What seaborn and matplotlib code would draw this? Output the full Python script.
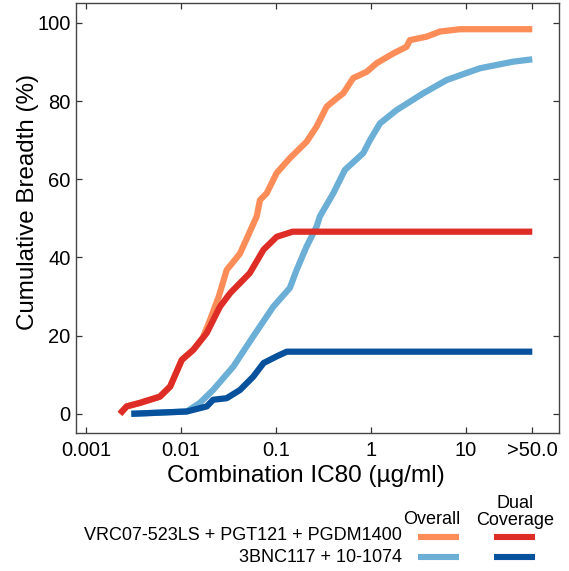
import numpy as np
import pandas as pd
import seaborn as sns
import matplotlib
matplotlib.use("Agg")
import matplotlib.pyplot as plt
from matplotlib import font_manager

# ---- data ----
vrc_overall_x = [0.00228, 0.00268, 0.0037, 0.006, 0.0077, 0.0102, 0.0135, 0.017, 0.0202, 0.025,
                 0.0303, 0.0418, 0.0627, 0.0679, 0.0798, 0.1017, 0.14, 0.21, 0.268, 0.342,
                 0.435, 0.511, 0.651, 0.901, 1.148, 1.72, 2.37, 2.57, 3.86, 5.33, 8.64, 50]
vrc_overall_y = [0, 1.9, 2.8, 4.4, 7.0, 13.8, 16.4, 19.5, 24, 30,
                 36.8, 41, 50.5, 54.7, 56.4, 61.6, 65.4, 69.6, 73.5, 78.6,
                 80.7, 82, 85.9, 87.5, 89.7, 92.2, 93.9, 95.6, 96.5, 97.8, 98.4, 98.4]

vrc_dual_x = [0.00228, 0.00268, 0.0037, 0.006, 0.0077, 0.0102, 0.0135, 0.0187, 0.0257, 0.033,
              0.053, 0.074, 0.102, 0.15, 50]
vrc_dual_y = [0, 1.9, 2.8, 4.4, 7.0, 13.8, 16.4, 20.7, 27.4, 30.9,
              36, 42, 45.3, 46.6, 46.6]

bnc_overall_x = [0.003, 0.0115, 0.0158, 0.0218, 0.0356, 0.0576, 0.0937, 0.14, 0.165, 0.21,
                 0.268, 0.29, 0.401, 0.532, 0.83, 0.976, 1.244, 1.86, 3.55, 6.27, 14.0, 31.5, 50]
bnc_overall_y = [0, 0.6, 2.8, 6.1, 12.1, 19.8, 27.4, 32.2, 36.8, 42.8,
                 47.9, 50.5, 56.4, 62.4, 66.7, 70, 74.3, 77.7, 82, 85.4, 88.4, 90.1, 90.7]

bnc_dual_x = [0.003, 0.0115, 0.0187, 0.0218, 0.0303, 0.0418, 0.0576, 0.0741, 0.1017, 0.13, 50]
bnc_dual_y = [0, 0.6, 1.9, 3.6, 4.0, 6.1, 9.5, 13, 14.7, 15.9, 15.9]

combos = ["VRC07-523LS + PGT121 + PGDM1400", "3BNC117 + 10-1074"]
x_ticks = [0.001, 0.01, 0.1, 1, 10, 50]
x_ticklabels = ["0.001", "0.01", "0.1", "1", "10", ">50.0"]
y_ticks = [0, 20, 40, 60, 80, 100]

c_vrc_over, c_vrc_dual = "#fc8d59", "#de2d26"
c_bnc_over, c_bnc_dual = "#6baed6", "#08519c"

sns.set_style("ticks")
names = {f.name for f in font_manager.fontManager.ttflist}
base = "Liberation Sans" if "Liberation Sans" in names else "DejaVu Sans"
plt.rcParams["font.family"] = [base, "DejaVu Sans"]
plt.rcParams["text.color"] = "black"
plt.rcParams["axes.labelcolor"] = "black"
plt.rcParams["xtick.labelcolor"] = "black"
plt.rcParams["ytick.labelcolor"] = "black"

fig = plt.figure(figsize=(5.69, 5.71), dpi=100)
ax = fig.add_axes([0.1336, 0.2417, 0.8488, 0.753])

lw = 4.5
series = [
    (vrc_overall_x, vrc_overall_y, c_vrc_over),
    (bnc_overall_x, bnc_overall_y, c_bnc_over),
    (vrc_dual_x, vrc_dual_y, c_vrc_dual),
    (bnc_dual_x, bnc_dual_y, c_bnc_dual),
]
for xs, ys, col in series:
    df = pd.DataFrame({"x": xs, "y": ys})
    sns.lineplot(data=df, x="x", y="y", ax=ax, color=col, linewidth=lw,
                 sort=False, estimator=None, solid_capstyle="butt")

ax.set_xscale("log")
ax.set_xlim(10 ** -3.105, 10 ** 1.98)
ax.set_ylim(-4.9, 105.1)
ax.set_xticks(x_ticks)
ax.set_xticklabels(x_ticklabels)
ax.xaxis.set_minor_locator(matplotlib.ticker.NullLocator())
ax.set_yticks(y_ticks)
ax.tick_params(axis="both", which="major", direction="in", length=4.5, width=0.9,
               top=True, right=True, color="#333333")
ax.tick_params(axis="x", labelsize=14.5, pad=6)
ax.tick_params(axis="y", labelsize=14.5, pad=4)
for s in ax.spines.values():
    s.set_visible(True)
    s.set_color("#444444")
    s.set_linewidth(1.0)

ax.set_xlabel("Combination IC80 (µg/ml)", fontsize=17.6)
ax.set_ylabel("Cumulative Breadth (%)", fontsize=17.4)
W, H = 569.0, 571.0
ax.xaxis.set_label_coords((306 - 76) / 483.0, (433 - 465) / 430.0)
ax.yaxis.set_label_coords((39 - 76) / 483.0, (433 - 202) / 430.0)

# custom legend below the axes
def fx(px): return px / W
def fy(py): return 1 - py / H

fig.text(fx(402), fy(536), combos[0], ha="right", va="center", fontsize=13)
fig.text(fx(402), fy(558), combos[1], ha="right", va="center", fontsize=13)
fig.text(fx(432), fy(519), "Overall", ha="center", va="center", fontsize=13)
fig.text(fx(515), fy(512), "Dual\nCoverage", ha="center", va="center", fontsize=13,
         linespacing=1.0)
for (x0, x1, y, col) in [(418, 459, 537, c_vrc_over), (494, 535, 537, c_vrc_dual),
                         (418, 459, 557, c_bnc_over), (494, 535, 557, c_bnc_dual)]:
    fig.add_artist(matplotlib.lines.Line2D([fx(x0), fx(x1)], [fy(y), fy(y)],
                                           color=col, linewidth=4.4,
                                           transform=fig.transFigure,
                                           solid_capstyle="butt"))

fig.savefig("out.png", dpi=100)
